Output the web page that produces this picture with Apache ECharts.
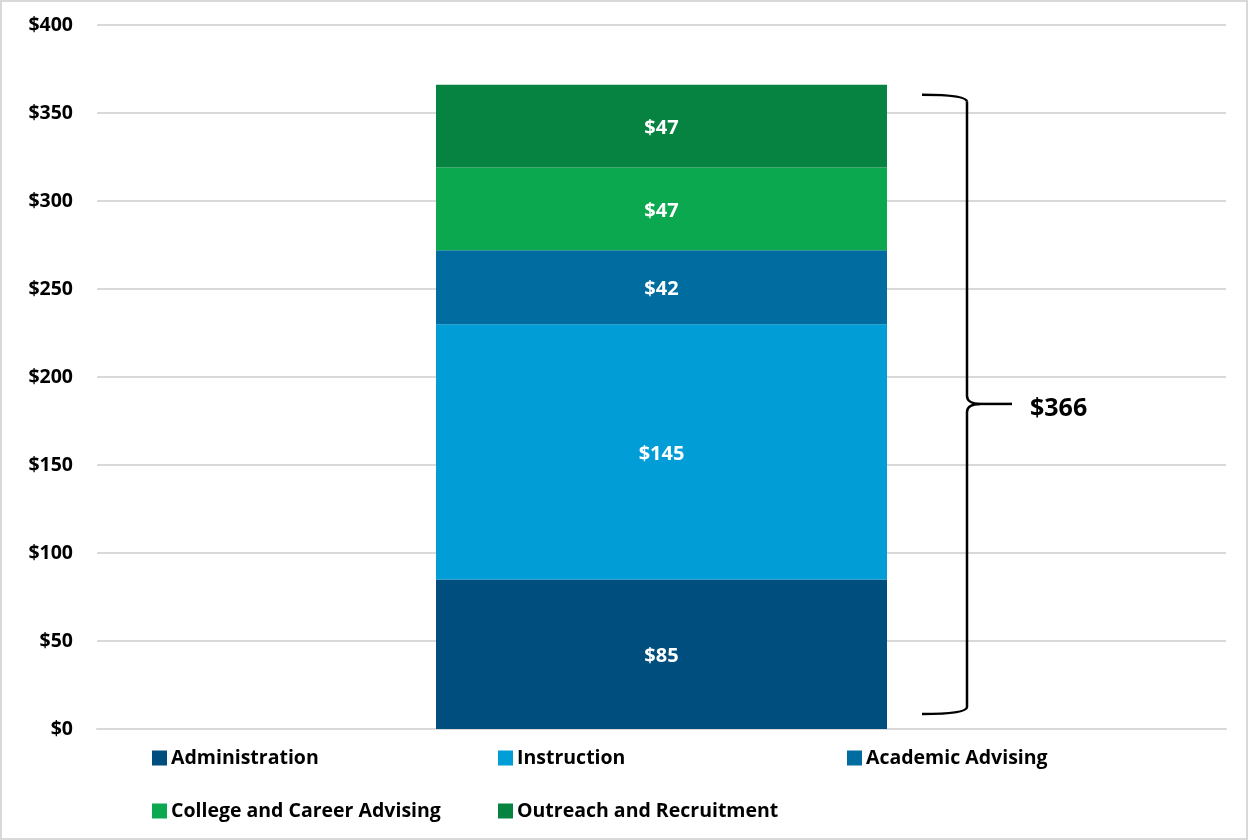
<!DOCTYPE html>
<html>
<head>
<meta charset="utf-8">
<script src="https://cdn.jsdelivr.net/npm/echarts@6/dist/echarts.min.js"></script>
<style>
  html, body { margin: 0; padding: 0; background: #fff; }
  #chart { width: 1248px; height: 840px; }
</style>
</head>
<body>
<div id="chart"></div>
<script>
// Per-student cost components (dollars)
const categories = ['Cost'];
const seriesNames = ['Administration', 'Instruction', 'Academic Advising', 'College and Career Advising', 'Outreach and Recruitment'];
const administration = [85];
const instruction = [145];
const academicAdvising = [42];
const collegeCareer = [47];
const outreach = [47];
const yTicks = [0, 50, 100, 150, 200, 250, 300, 350, 400];

const seriesValues = [administration, instruction, academicAdvising, collegeCareer, outreach];
const colors = ['#004E7E', '#009DD7', '#006C9F', '#0BA84F', '#068241'];
const FONT = '"Open Sans", Lato, sans-serif';

const total = seriesValues.reduce((s, arr) => s + arr[0], 0);

const chart = echarts.init(document.getElementById('chart'));

const series = seriesNames.map((name, i) => ({
  name: name,
  type: 'bar',
  stack: 'total',
  barWidth: 451,
  data: seriesValues[i],
  itemStyle: { color: colors[i] },
  label: {
    show: true,
    position: 'inside',
    offset: [0, 2],
    formatter: p => '$' + p.value,
    color: '#fff',
    fontFamily: FONT,
    fontWeight: 'bold',
    fontSize: 20
  },
  emphasis: { disabled: true }
}));

// Legend laid out in two rows of fixed columns
const legendPos = [
  { left: 147, top: 743 },
  { left: 493, top: 743 },
  { left: 842, top: 743 },
  { left: 147, top: 796 },
  { left: 493, top: 796 }
];
const legends = seriesNames.map((name, i) => ({
  data: [name],
  left: legendPos[i].left,
  top: legendPos[i].top,
  icon: 'rect',
  itemWidth: 15,
  itemHeight: 15,
  itemGap: 5,
  selectedMode: false,
  textStyle: { fontFamily: FONT, fontWeight: 'bold', fontSize: 19.5, color: '#000', padding: [0, 0, 0, -1] }
}));

chart.setOption({
  animation: false,
  grid: { left: 97, right: 22, top: 25, bottom: 111 },
  legend: legends,
  xAxis: {
    type: 'category',
    data: categories,
    axisLine: { show: true, lineStyle: { color: '#d9d9d9', width: 2 } },
    axisTick: { show: false },
    axisLabel: { show: false }
  },
  yAxis: {
    type: 'value',
    min: yTicks[0],
    max: yTicks[yTicks.length - 1],
    interval: 50,
    axisLine: { show: false },
    axisTick: { show: false },
    splitLine: { lineStyle: { color: '#d9d9d9', width: 2 } },
    axisLabel: {
      formatter: v => '$' + v,
      color: '#000',
      fontFamily: FONT,
      fontWeight: 'bold',
      fontSize: 19.5,
      margin: 24
    }
  },
  series: series
});

// Brace marking the stacked total, positioned from the axis scale
const yTop = chart.convertToPixel({ yAxisIndex: 0 }, total) + 10;
const yBot = chart.convertToPixel({ yAxisIndex: 0 }, 0) - 15;
const yMid = chart.convertToPixel({ yAxisIndex: 0 }, total / 2) - 3;
const xL = 922, xV = 967, xTip = 1012;
const braceStyle = { stroke: '#000', lineWidth: 2.5, fill: 'none' };

function curve(x1, y1, c1x, c1y, c2x, c2y, x2, y2) {
  return {
    type: 'bezierCurve',
    shape: { x1: x1, y1: y1, cpx1: c1x, cpy1: c1y, cpx2: c2x, cpy2: c2y, x2: x2, y2: y2 },
    style: braceStyle,
    silent: true
  };
}
function seg(x1, y1, x2, y2) {
  return { type: 'line', shape: { x1: x1, y1: y1, x2: x2, y2: y2 }, style: braceStyle, silent: true };
}

const braceParts = [
  curve(xL, yTop, xL + 28, yTop, xV, yTop + 2, xV, yTop + 7),
  seg(xV, yTop + 7, xV, yMid - 8),
  curve(xV, yMid - 8, xV, yMid - 3, xV + 5, yMid, xV + 13, yMid),
  seg(xV + 13, yMid, xTip, yMid),
  curve(xV + 13, yMid, xV + 5, yMid, xV, yMid + 3, xV, yMid + 8),
  seg(xV, yMid + 8, xV, yBot - 7),
  curve(xV, yBot - 7, xV, yBot - 2, xL + 28, yBot, xL, yBot)
];

chart.setOption({
  graphic: [
    {
      type: 'rect',
      shape: { x: 1, y: 1, width: 1246, height: 838 },
      style: { fill: 'none', stroke: '#d9d9d9', lineWidth: 2 },
      silent: true
    },
    ...braceParts,
    {
      type: 'text',
      x: 1030,
      y: yMid + 5,
      style: {
        text: '$' + total,
        fontFamily: FONT,
        fontWeight: 'bold',
        fontSize: 25,
        fill: '#000',
        verticalAlign: 'middle'
      },
      silent: true
    }
  ]
});
</script>
</body>
</html>
